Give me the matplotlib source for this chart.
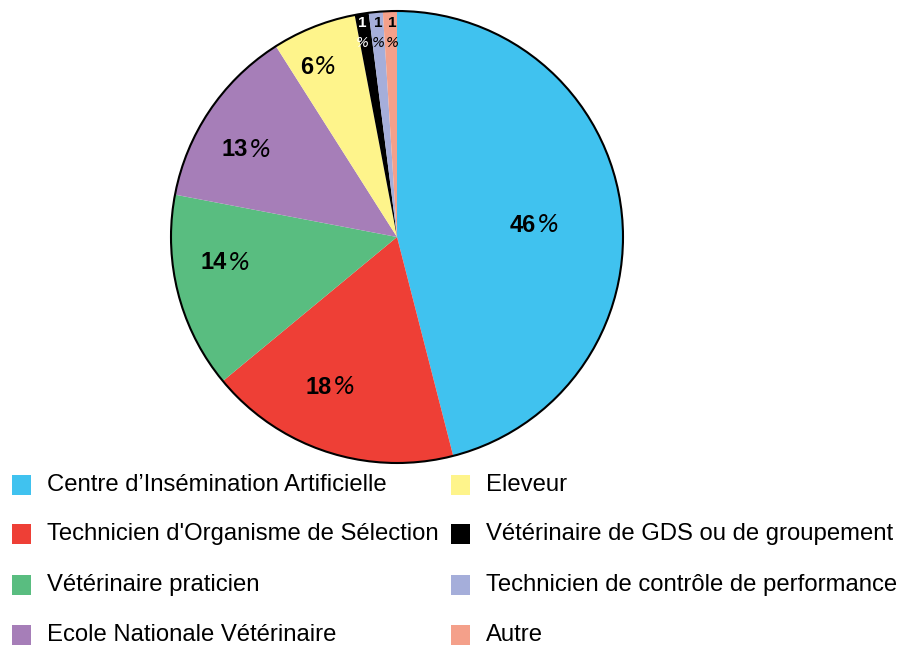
import matplotlib
matplotlib.use("Agg")
import matplotlib.pyplot as plt
from matplotlib.patches import Circle, Rectangle

plt.rcParams['font.family'] = ['Liberation Sans', 'DejaVu Sans']

categories = [
    "Centre d\u2019Insémination Artificielle",
    "Technicien d'Organisme de Sélection",
    "Vétérinaire praticien",
    "Ecole Nationale Vétérinaire",
    "Eleveur",
    "Vétérinaire de GDS ou de groupement",
    "Technicien de contrôle de performance",
    "Autre",
]
values = [46, 18, 14, 13, 6, 1, 1, 1]
colors = ["#40C2EF", "#EE3F36", "#59BD80", "#A67EB8", "#FEF48B", "#000000", "#A5AEDA", "#F4A08A"]
text_colors = ["black", "black", "black", "black", "black", "white", "black", "black"]

# label anchor positions (pie radius = 1), split point between number and "%"
label_pos = [(0.615, 0.053), (-0.288, -0.664), (-0.752, -0.115), (-0.659, 0.385),
             (-0.372, 0.752), (-0.155, 0.903), (-0.084, 0.903), (-0.022, 0.903)]

W, H = 904, 648
fig = plt.figure(figsize=(W / 100, H / 100), dpi=100)
cx, cy, R = 397, 237, 226
m = 1.01
ax = fig.add_axes([(cx - R * m) / W, (H - cy - R * m) / H, 2 * R * m / W, 2 * R * m / H])
ax.pie(values, colors=colors, startangle=90, counterclock=False,
       wedgeprops=dict(linewidth=0))
ax.add_patch(Circle((0, 0), 1.0, fill=False, edgecolor="black", lw=1.5))
ax.set_xlim(-m, m)
ax.set_ylim(-m, m)
ax.set_aspect('equal')
ax.axis('off')

for v, (x, y), tc in zip(values, label_pos, text_colors):
    if v >= 5:
        ax.text(x, y, f"{v}", ha='right', va='center', fontsize=17, fontweight='bold', color=tc)
        ax.text(x + 0.005, y, "%", ha='left', va='center', fontsize=17, style='italic',
                fontweight='light', color=tc, family=['DejaVu Sans'])
    else:
        ax.text(x, y + 0.045, f"{v}", ha='center', va='center', fontsize=11,
                fontweight='bold', color=tc)
        ax.text(x, y - 0.045, "%", ha='center', va='center', fontsize=10,
                style='italic', color=tc, family=['DejaVu Sans'])

# legend (two columns, four rows)
col_x = [12, 451]
row_y = [485, 534, 585, 635]
sq = 19
for i, (lab, col) in enumerate(zip(categories, colors)):
    c, r = divmod(i, 4)
    x0 = col_x[c]
    yc = row_y[r]
    fig.patches.append(Rectangle((x0 / W, (H - yc - 10) / H), sq / W, 20 / H,
                                 transform=fig.transFigure, facecolor=col,
                                 edgecolor='none'))
    fig.text((x0 + 35) / W, (H - yc) / H, lab, ha='left', va='center',
             fontsize=17.2, color='black')

fig.savefig("out.png", dpi=100)
